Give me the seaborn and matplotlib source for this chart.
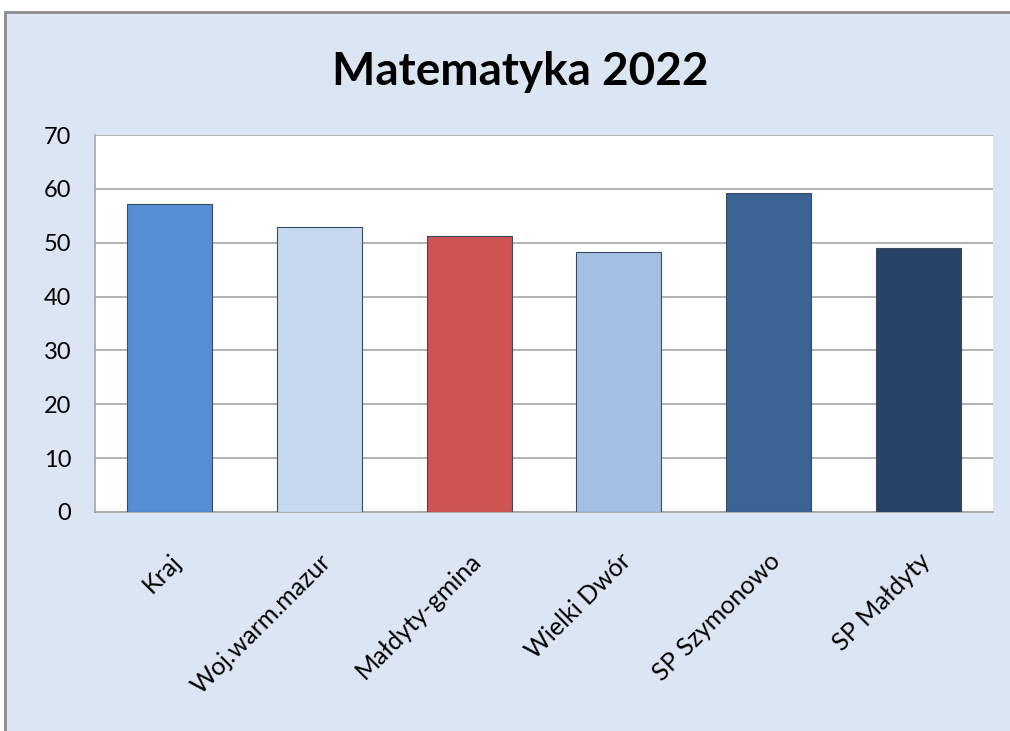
import matplotlib
matplotlib.use("Agg")
import matplotlib.pyplot as plt
import seaborn as sns
import pandas as pd
from matplotlib.patches import Rectangle

# Data
categories = ["Kraj", "Woj.warm.mazur", "Małdyty-gmina", "Wielki Dwór", "SP Szymonowo", "SP Małdyty"]
values = [57.2, 53.0, 51.2, 48.2, 59.2, 49.1]
colors = ["#558ED5", "#C6D9F1", "#CD5452", "#A3BFE2", "#3B6494", "#294366"]
yticks = [0, 10, 20, 30, 40, 50, 60, 70]

df = pd.DataFrame({"category": categories, "value": values})

sns.set_style("white")
plt.rcParams["font.family"] = ["Lato", "DejaVu Sans"]

fig = plt.figure(figsize=(10.1, 7.31), dpi=100, facecolor="white")

# chart area background with grey border (drawn behind the axes)
fig.patches.append(Rectangle((5 / 1010, -0.05), 1.1, (731 - 12) / 731 + 0.05,
                             transform=fig.transFigure, facecolor="#DCE6F2",
                             edgecolor="#8C8C8C", linewidth=2, zorder=-10))

ax = fig.add_axes([95 / 1010, (731 - 512) / 731, (993 - 95) / 1010, (512 - 135) / 731])
ax.set_zorder(5)
ax.set_facecolor("white")

sns.barplot(data=df, x="category", y="value", hue="category", palette=colors,
            saturation=1, width=0.57, legend=False, ax=ax,
            edgecolor="#3a4a5e", linewidth=0.8, zorder=3)

ax.set_ylim(0, 70)
ax.set_yticks(yticks)
ax.set_yticklabels([str(t) for t in yticks], fontsize=17)
ax.yaxis.grid(True, color="#A6A6A6", linewidth=1.2, zorder=0)
ax.set_axisbelow(True)
ax.set_xlabel("")
ax.set_ylabel("")
ax.tick_params(axis="y", length=0, pad=17, labelcolor="black")
ax.tick_params(axis="x", length=0, pad=27, labelcolor="black")
for lbl in ax.get_xticklabels():
    lbl.set_rotation(45)
    lbl.set_ha("right")
    lbl.set_rotation_mode("anchor")
    lbl.set_fontsize(18)

for side in ["top", "right"]:
    ax.spines[side].set_visible(False)
for side in ["left", "bottom"]:
    ax.spines[side].set_color("#A6A6A6")
    ax.spines[side].set_linewidth(1.2)

fig.text(0.515, 1 - 72 / 731, "Matematyka 2022", ha="center", va="center",
         fontsize=33, fontweight="bold", color="black")

fig.savefig("out.png", dpi=100, facecolor=fig.get_facecolor())
